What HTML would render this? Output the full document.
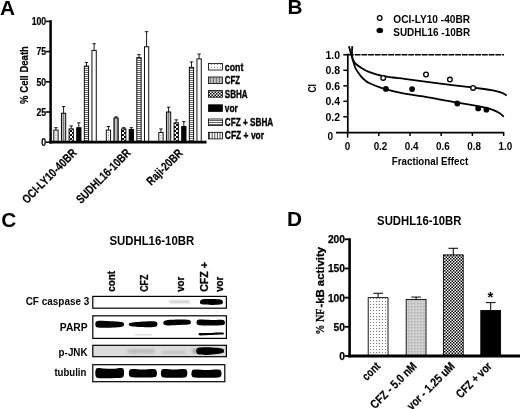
<!DOCTYPE html>
<html lang="en"><head><meta charset="utf-8"><title>Figure</title>
<style>
html,body{margin:0;padding:0;background:#fff;}
body{width:520px;height:409px;overflow:hidden;}
svg{display:block;}
text{font-family:"Liberation Sans",Arial,Helvetica,sans-serif;font-weight:bold;fill:#000;}
</style></head><body>
<svg width="520" height="409" viewBox="0 0 520 409">
<defs>
<pattern id="pDotL" width="3" height="3" patternUnits="userSpaceOnUse"><rect width="3" height="3" fill="#fff"/><rect x="1" y="1" width="1" height="1" fill="#888"/></pattern>
<pattern id="pDotD" width="3" height="3" patternUnits="userSpaceOnUse"><rect width="3" height="3" fill="#fff"/><rect x="1" y="1" width="1" height="1" fill="#777"/></pattern>
<pattern id="pV" width="3" height="4" patternUnits="userSpaceOnUse"><rect width="3" height="4" fill="#fff"/><rect x="0.2" y="0" width="0.65" height="4" fill="#333"/><rect x="1.7" y="0" width="0.65" height="4" fill="#333"/></pattern>
<pattern id="pVW" width="13" height="4" patternUnits="userSpaceOnUse"><rect width="13" height="4" fill="#fff"/><path d="M1.6,0v4M4.2,0v4M6.8,0v4M9.4,0v4M12,0v4" stroke="#222" stroke-width="0.8"/></pattern>
<pattern id="pH" width="4" height="2" patternUnits="userSpaceOnUse"><rect width="4" height="2" fill="#fff"/><rect x="0" y="0" width="4" height="1" fill="#666"/></pattern>
<pattern id="pChk" width="3" height="3" patternUnits="userSpaceOnUse"><rect width="3" height="3" fill="#fff"/><rect x="0" y="0" width="1.5" height="1.5" fill="#000"/><rect x="1.5" y="1.5" width="1.5" height="1.5" fill="#000"/></pattern>
<pattern id="pChkA" width="4" height="4" patternUnits="userSpaceOnUse"><rect width="4" height="4" fill="#fff"/><rect x="0" y="0" width="2" height="2" fill="#111"/><rect x="2" y="2" width="2" height="2" fill="#111"/></pattern>
<pattern id="pGrid" width="3" height="3" patternUnits="userSpaceOnUse"><rect width="3" height="3" fill="#fff"/><path d="M0.4,0v3M1.9,0v3M0,0.4h3M0,1.9h3" stroke="#888" stroke-width="0.42"/></pattern>
<filter id="b1" x="-20%" y="-60%" width="140%" height="220%"><feGaussianBlur stdDeviation="0.6"/></filter>
<filter id="b2" x="-20%" y="-100%" width="140%" height="300%"><feGaussianBlur stdDeviation="1.1"/></filter>
</defs>
<rect width="520" height="409" fill="#fff"/>

<g id="panelA">
<text x="0.1" y="14.6" font-size="20.8">A</text>
<line x1="45.8" y1="21.4" x2="50.6" y2="21.4" stroke="#000" stroke-width="1.6"/>
<text x="46.2" y="25.1" font-size="10.6" text-anchor="end" textLength="14.55" lengthAdjust="spacingAndGlyphs" stroke="#000" stroke-width="0.2">100</text>
<line x1="45.8" y1="51.6" x2="50.6" y2="51.6" stroke="#000" stroke-width="1.6"/>
<text x="46.2" y="55.3" font-size="10.6" text-anchor="end" textLength="9.7" lengthAdjust="spacingAndGlyphs" stroke="#000" stroke-width="0.2">75</text>
<line x1="45.8" y1="81.8" x2="50.6" y2="81.8" stroke="#000" stroke-width="1.6"/>
<text x="46.2" y="85.5" font-size="10.6" text-anchor="end" textLength="9.7" lengthAdjust="spacingAndGlyphs" stroke="#000" stroke-width="0.2">50</text>
<line x1="45.8" y1="112.0" x2="50.6" y2="112.0" stroke="#000" stroke-width="1.6"/>
<text x="46.2" y="115.7" font-size="10.6" text-anchor="end" textLength="9.7" lengthAdjust="spacingAndGlyphs" stroke="#000" stroke-width="0.2">25</text>
<line x1="45.8" y1="142.2" x2="50.6" y2="142.2" stroke="#000" stroke-width="1.6"/>
<text x="46.2" y="145.9" font-size="10.6" text-anchor="end" textLength="4.85" lengthAdjust="spacingAndGlyphs" stroke="#000" stroke-width="0.2">0</text>
<text x="27.9" y="75" font-size="10.6" text-anchor="middle" textLength="57.8" lengthAdjust="spacingAndGlyphs" transform="rotate(-90 27.9 75)" stroke="#000" stroke-width="0.2">% Cell Death</text>
<line x1="55.95" y1="130.12" x2="55.95" y2="127.7" stroke="#000" stroke-width="0.9"/>
<line x1="54.25" y1="127.7" x2="57.65" y2="127.7" stroke="#000" stroke-width="0.9"/>
<rect x="53.8" y="130.12" width="4.3" height="12.08" fill="#fff" stroke="#000" stroke-width="0.95"/>
<rect x="55.35" y="132.32" width="1.2" height="1" fill="#888"/>
<rect x="55.35" y="134.72" width="1.2" height="1" fill="#888"/>
<rect x="55.35" y="137.12" width="1.2" height="1" fill="#888"/>
<rect x="55.35" y="139.52" width="1.2" height="1" fill="#888"/>
<line x1="63.58" y1="113.21" x2="63.58" y2="106.56" stroke="#000" stroke-width="0.9"/>
<line x1="61.88" y1="106.56" x2="65.28" y2="106.56" stroke="#000" stroke-width="0.9"/>
<rect x="61.43" y="113.21" width="4.3" height="28.99" fill="url(#pV)" stroke="#000" stroke-width="0.95"/>
<line x1="71.21" y1="128.91" x2="71.21" y2="125.89" stroke="#000" stroke-width="0.9"/>
<line x1="69.51" y1="125.89" x2="72.91" y2="125.89" stroke="#000" stroke-width="0.9"/>
<rect x="69.06" y="128.91" width="4.3" height="13.29" fill="url(#pChkA)" stroke="#000" stroke-width="0.95"/>
<line x1="78.84" y1="127.7" x2="78.84" y2="122.87" stroke="#000" stroke-width="0.9"/>
<line x1="77.14" y1="122.87" x2="80.54" y2="122.87" stroke="#000" stroke-width="0.9"/>
<rect x="76.69" y="127.7" width="4.3" height="14.5" fill="#000" stroke="#000" stroke-width="0.95"/>
<line x1="86.47" y1="66.1" x2="86.47" y2="62.47" stroke="#000" stroke-width="0.9"/>
<line x1="84.77" y1="62.47" x2="88.17" y2="62.47" stroke="#000" stroke-width="0.9"/>
<rect x="84.32" y="66.1" width="4.3" height="76.1" fill="url(#pH)" stroke="#000" stroke-width="0.95"/>
<line x1="94.1" y1="50.39" x2="94.1" y2="43.75" stroke="#000" stroke-width="0.9"/>
<line x1="92.4" y1="43.75" x2="95.8" y2="43.75" stroke="#000" stroke-width="0.9"/>
<rect x="91.95" y="50.39" width="4.3" height="91.81" fill="#fff" stroke="#000" stroke-width="0.95"/>
<line x1="108.45" y1="130.12" x2="108.45" y2="126.5" stroke="#000" stroke-width="0.9"/>
<line x1="106.75" y1="126.5" x2="110.15" y2="126.5" stroke="#000" stroke-width="0.9"/>
<rect x="106.3" y="130.12" width="4.3" height="12.08" fill="#fff" stroke="#000" stroke-width="0.95"/>
<rect x="107.85" y="132.32" width="1.2" height="1" fill="#888"/>
<rect x="107.85" y="134.72" width="1.2" height="1" fill="#888"/>
<rect x="107.85" y="137.12" width="1.2" height="1" fill="#888"/>
<rect x="107.85" y="139.52" width="1.2" height="1" fill="#888"/>
<line x1="116.08" y1="118.04" x2="116.08" y2="116.83" stroke="#000" stroke-width="0.9"/>
<line x1="114.38" y1="116.83" x2="117.78" y2="116.83" stroke="#000" stroke-width="0.9"/>
<rect x="113.93" y="118.04" width="4.3" height="24.16" fill="url(#pV)" stroke="#000" stroke-width="0.95"/>
<line x1="123.71" y1="128.91" x2="123.71" y2="127.7" stroke="#000" stroke-width="0.9"/>
<line x1="122.01" y1="127.7" x2="125.41" y2="127.7" stroke="#000" stroke-width="0.9"/>
<rect x="121.56" y="128.91" width="4.3" height="13.29" fill="url(#pChkA)" stroke="#000" stroke-width="0.95"/>
<line x1="131.34" y1="129.52" x2="131.34" y2="127.7" stroke="#000" stroke-width="0.9"/>
<line x1="129.64" y1="127.7" x2="133.04" y2="127.7" stroke="#000" stroke-width="0.9"/>
<rect x="129.19" y="129.52" width="4.3" height="12.68" fill="#000" stroke="#000" stroke-width="0.95"/>
<line x1="138.97" y1="57.64" x2="138.97" y2="54.62" stroke="#000" stroke-width="0.9"/>
<line x1="137.27" y1="54.62" x2="140.67" y2="54.62" stroke="#000" stroke-width="0.9"/>
<rect x="136.82" y="57.64" width="4.3" height="84.56" fill="url(#pH)" stroke="#000" stroke-width="0.95"/>
<line x1="146.6" y1="46.77" x2="146.6" y2="31.67" stroke="#000" stroke-width="0.9"/>
<line x1="144.9" y1="31.67" x2="148.3" y2="31.67" stroke="#000" stroke-width="0.9"/>
<rect x="144.45" y="46.77" width="4.3" height="95.43" fill="#fff" stroke="#000" stroke-width="0.95"/>
<line x1="160.95" y1="132.54" x2="160.95" y2="128.91" stroke="#000" stroke-width="0.9"/>
<line x1="159.25" y1="128.91" x2="162.65" y2="128.91" stroke="#000" stroke-width="0.9"/>
<rect x="158.8" y="132.54" width="4.3" height="9.66" fill="#fff" stroke="#000" stroke-width="0.95"/>
<rect x="160.35" y="134.74" width="1.2" height="1" fill="#888"/>
<rect x="160.35" y="137.14" width="1.2" height="1" fill="#888"/>
<rect x="160.35" y="139.54" width="1.2" height="1" fill="#888"/>
<line x1="168.58" y1="112.0" x2="168.58" y2="107.17" stroke="#000" stroke-width="0.9"/>
<line x1="166.88" y1="107.17" x2="170.28" y2="107.17" stroke="#000" stroke-width="0.9"/>
<rect x="166.43" y="112.0" width="4.3" height="30.2" fill="url(#pV)" stroke="#000" stroke-width="0.95"/>
<line x1="176.21" y1="122.87" x2="176.21" y2="119.85" stroke="#000" stroke-width="0.9"/>
<line x1="174.51" y1="119.85" x2="177.91" y2="119.85" stroke="#000" stroke-width="0.9"/>
<rect x="174.06" y="122.87" width="4.3" height="19.33" fill="url(#pChkA)" stroke="#000" stroke-width="0.95"/>
<line x1="183.84" y1="126.5" x2="183.84" y2="121.66" stroke="#000" stroke-width="0.9"/>
<line x1="182.14" y1="121.66" x2="185.54" y2="121.66" stroke="#000" stroke-width="0.9"/>
<rect x="181.69" y="126.5" width="4.3" height="15.7" fill="#000" stroke="#000" stroke-width="0.95"/>
<line x1="191.47" y1="67.3" x2="191.47" y2="61.87" stroke="#000" stroke-width="0.9"/>
<line x1="189.77" y1="61.87" x2="193.17" y2="61.87" stroke="#000" stroke-width="0.9"/>
<rect x="189.32" y="67.3" width="4.3" height="74.9" fill="url(#pH)" stroke="#000" stroke-width="0.95"/>
<line x1="199.1" y1="58.85" x2="199.1" y2="54.02" stroke="#000" stroke-width="0.9"/>
<line x1="197.4" y1="54.02" x2="200.8" y2="54.02" stroke="#000" stroke-width="0.9"/>
<rect x="196.95" y="58.85" width="4.3" height="83.35" fill="#fff" stroke="#000" stroke-width="0.95"/>
<line x1="50.6" y1="20.2" x2="50.6" y2="143.6" stroke="#000" stroke-width="2.5"/>
<line x1="49.2" y1="142.2" x2="206.5" y2="142.2" stroke="#000" stroke-width="2.8"/>
<text x="77.5" y="153.6" font-size="12" text-anchor="end" textLength="71.5" lengthAdjust="spacingAndGlyphs" transform="rotate(-45 77.5 153.6)" stroke="#000" stroke-width="0.2">OCI-LY10-40BR</text>
<text x="131.5" y="153.6" font-size="12" text-anchor="end" textLength="71.5" lengthAdjust="spacingAndGlyphs" transform="rotate(-45 131.5 153.6)" stroke="#000" stroke-width="0.2">SUDHL16-10BR</text>
<text x="183.5" y="153.8" font-size="12" text-anchor="end" textLength="45.5" lengthAdjust="spacingAndGlyphs" transform="rotate(-45 183.5 153.8)" stroke="#000" stroke-width="0.2">Raji-20BR</text>
<rect x="208.5" y="63.4" width="13.9" height="6.6" fill="url(#pDotL)" stroke="#000" stroke-width="0.8"/>
<text x="224.8" y="70.5" font-size="10.7" textLength="18.5" lengthAdjust="spacingAndGlyphs" stroke="#000" stroke-width="0.35">cont</text>
<rect x="208.5" y="77.0" width="13.9" height="6.6" fill="url(#pV)" stroke="#000" stroke-width="0.8"/>
<text x="224.8" y="84.1" font-size="10.7" textLength="15.2" lengthAdjust="spacingAndGlyphs" stroke="#000" stroke-width="0.35">CFZ</text>
<rect x="208.5" y="90.6" width="13.9" height="6.6" fill="url(#pChk)" stroke="#000" stroke-width="0.8"/>
<text x="224.8" y="97.7" font-size="10.7" textLength="22.8" lengthAdjust="spacingAndGlyphs" stroke="#000" stroke-width="0.35">SBHA</text>
<rect x="208.5" y="104.8" width="13.9" height="6.6" fill="#000" stroke="#000" stroke-width="0.8"/>
<text x="224.8" y="111.9" font-size="10.7" textLength="13" lengthAdjust="spacingAndGlyphs" stroke="#000" stroke-width="0.35">vor</text>
<rect x="208.5" y="119.0" width="13.9" height="6.6" fill="url(#pH)" stroke="#000" stroke-width="0.8"/>
<text x="224.8" y="126.1" font-size="10.7" textLength="48.5" lengthAdjust="spacingAndGlyphs" stroke="#000" stroke-width="0.35">CFZ + SBHA</text>
<rect x="208.5" y="132.3" width="13.9" height="6.6" fill="url(#pVW)" stroke="#000" stroke-width="0.8"/>
<text x="224.8" y="139.4" font-size="10.7" textLength="39.3" lengthAdjust="spacingAndGlyphs" stroke="#000" stroke-width="0.35">CFZ + vor</text>
</g>
<g id="panelB">
<text x="287.5" y="14.4" font-size="20.8">B</text>
<circle cx="379.7" cy="18" r="2.3" fill="#fff" stroke="#000" stroke-width="1.3"/>
<ellipse cx="379.8" cy="30.4" rx="3.3" ry="2.7" fill="#000"/>
<text x="393.3" y="23.1" font-size="11.3" textLength="76.8" lengthAdjust="spacingAndGlyphs">OCI-LY10 -40BR</text>
<text x="393.3" y="35.8" font-size="11.3" textLength="76.8" lengthAdjust="spacingAndGlyphs">SUDHL16 -10BR</text>
<line x1="347.8" y1="53.5" x2="347.8" y2="133" stroke="#000" stroke-width="1.7"/>
<line x1="343.3" y1="54.8" x2="347.8" y2="54.8" stroke="#000" stroke-width="1.5"/>
<text x="340" y="58.9" font-size="11.4" text-anchor="end" textLength="14.6" lengthAdjust="spacingAndGlyphs">1.0</text>
<line x1="343.3" y1="70.3" x2="347.8" y2="70.3" stroke="#000" stroke-width="1.5"/>
<text x="340" y="74.4" font-size="11.4" text-anchor="end" textLength="14.6" lengthAdjust="spacingAndGlyphs">0.8</text>
<line x1="343.3" y1="85.8" x2="347.8" y2="85.8" stroke="#000" stroke-width="1.5"/>
<text x="340" y="89.9" font-size="11.4" text-anchor="end" textLength="14.6" lengthAdjust="spacingAndGlyphs">0.6</text>
<line x1="343.3" y1="101.3" x2="347.8" y2="101.3" stroke="#000" stroke-width="1.5"/>
<text x="340" y="105.4" font-size="11.4" text-anchor="end" textLength="14.6" lengthAdjust="spacingAndGlyphs">0.4</text>
<line x1="343.3" y1="116.8" x2="347.8" y2="116.8" stroke="#000" stroke-width="1.5"/>
<text x="340" y="120.9" font-size="11.4" text-anchor="end" textLength="14.6" lengthAdjust="spacingAndGlyphs">0.2</text>
<text x="333" y="140.2" font-size="11" text-anchor="end" textLength="5.6" lengthAdjust="spacingAndGlyphs">0</text>
<line x1="336" y1="132.7" x2="504.3" y2="132.7" stroke="#000" stroke-width="1.8"/>
<line x1="347.6" y1="132.7" x2="347.6" y2="137.6" stroke="#000" stroke-width="1.5"/>
<text x="347.6" y="150.2" font-size="10.8" text-anchor="middle" textLength="5.5" lengthAdjust="spacingAndGlyphs">0</text>
<line x1="378.8" y1="132.7" x2="378.8" y2="136" stroke="#000" stroke-width="1.5"/>
<text x="380.5" y="150.2" font-size="10.8" text-anchor="middle" textLength="13.7" lengthAdjust="spacingAndGlyphs">0.2</text>
<line x1="410.0" y1="132.7" x2="410.0" y2="136" stroke="#000" stroke-width="1.5"/>
<text x="411.7" y="150.2" font-size="10.8" text-anchor="middle" textLength="13.7" lengthAdjust="spacingAndGlyphs">0.4</text>
<line x1="441.2" y1="132.7" x2="441.2" y2="136" stroke="#000" stroke-width="1.5"/>
<text x="442.9" y="150.2" font-size="10.8" text-anchor="middle" textLength="13.7" lengthAdjust="spacingAndGlyphs">0.6</text>
<line x1="472.4" y1="132.7" x2="472.4" y2="136" stroke="#000" stroke-width="1.5"/>
<text x="474.1" y="150.2" font-size="10.8" text-anchor="middle" textLength="13.7" lengthAdjust="spacingAndGlyphs">0.8</text>
<line x1="503.6" y1="132.7" x2="503.6" y2="136" stroke="#000" stroke-width="1.5"/>
<text x="505.3" y="150.2" font-size="10.8" text-anchor="middle" textLength="13.7" lengthAdjust="spacingAndGlyphs">1.0</text>
<text x="430" y="164.5" font-size="11.3" text-anchor="middle" textLength="76.3" lengthAdjust="spacingAndGlyphs">Fractional Effect</text>
<text x="315.6" y="88.3" font-size="11" text-anchor="middle" textLength="8.6" lengthAdjust="spacingAndGlyphs" transform="rotate(-90 315.6 88.3)">CI</text>
<line x1="348" y1="54.7" x2="504" y2="54.7" stroke="#000" stroke-width="1.6" stroke-dasharray="5.8 0.9"/>
<path d="M348.9,46.2 C349.12,47.00 349.78,49.47 350.2,51 C350.62,52.53 350.93,53.97 351.4,55.4 C351.87,56.83 352.25,58.17 353,59.6 C353.75,61.03 354.28,62.48 355.9,64 C357.52,65.52 360.42,67.35 362.7,68.7 C364.98,70.05 366.52,70.95 369.6,72.1 C372.68,73.25 377.32,74.70 381.2,75.6 C385.08,76.50 389.02,76.97 392.9,77.5 C396.78,78.03 399.45,78.15 404.5,78.8 C409.55,79.45 416.22,80.47 423.2,81.4 C430.18,82.33 438.67,83.43 446.4,84.4 C454.13,85.37 463.33,86.43 469.6,87.2 C475.87,87.97 480.12,88.47 484,89 C487.88,89.53 490.40,89.93 492.9,90.4 C495.40,90.87 497.32,91.33 499,91.8 C500.68,92.27 501.70,92.57 503,93.2 C504.30,93.83 506.17,95.20 506.8,95.6" fill="none" stroke="#000" stroke-width="1.8"/>
<path d="M352.3,46.2 C352.25,47.00 352.03,49.47 352,51 C351.97,52.53 351.98,53.98 352.1,55.4 C352.22,56.82 352.43,58.25 352.7,59.5 C352.97,60.75 353.20,61.37 353.7,62.9 C354.20,64.43 354.58,66.58 355.7,68.7 C356.82,70.82 358.85,73.67 360.4,75.6 C361.95,77.53 363.47,79.02 365,80.3 C366.53,81.58 366.90,82.03 369.6,83.3 C372.30,84.57 377.32,86.58 381.2,87.9 C385.08,89.22 389.02,90.25 392.9,91.2 C396.78,92.15 399.45,92.73 404.5,93.6 C409.55,94.47 416.22,95.22 423.2,96.4 C430.18,97.58 438.67,99.33 446.4,100.7 C454.13,102.07 463.33,103.50 469.6,104.6 C475.87,105.70 480.12,106.43 484,107.3 C487.88,108.17 490.27,108.80 492.9,109.8 C495.53,110.80 497.98,112.15 499.8,113.3 C501.62,114.45 503.13,116.13 503.8,116.7" fill="none" stroke="#000" stroke-width="1.8"/>
<circle cx="383.2" cy="77.9" r="2.35" fill="#fff" stroke="#000" stroke-width="1.3"/>
<circle cx="426" cy="74.5" r="2.35" fill="#fff" stroke="#000" stroke-width="1.3"/>
<circle cx="449.9" cy="79.6" r="2.35" fill="#fff" stroke="#000" stroke-width="1.3"/>
<circle cx="473.1" cy="87.9" r="2.35" fill="#fff" stroke="#000" stroke-width="1.3"/>
<circle cx="385.9" cy="88.9" r="2.9" fill="#000"/>
<circle cx="412.1" cy="89.1" r="2.9" fill="#000"/>
<circle cx="457.3" cy="103.5" r="2.9" fill="#000"/>
<circle cx="478.2" cy="108.4" r="2.9" fill="#000"/>
<circle cx="486.4" cy="109.7" r="2.9" fill="#000"/>
</g>
<g id="panelC">
<text x="1.3" y="227" font-size="20.8">C</text>
<text x="109.4" y="245.4" font-size="12.8" textLength="84.8" lengthAdjust="spacingAndGlyphs">SUDHL16-10BR</text>
<text x="115" y="291.8" font-size="10.5" textLength="20.8" lengthAdjust="spacingAndGlyphs" transform="rotate(-90 115 291.8)" stroke="#000" stroke-width="0.3">cont</text>
<text x="147.6" y="291.8" font-size="10.5" textLength="17.2" lengthAdjust="spacingAndGlyphs" transform="rotate(-90 147.6 291.8)" stroke="#000" stroke-width="0.3">CFZ</text>
<text x="184.4" y="291.8" font-size="10.5" textLength="15" lengthAdjust="spacingAndGlyphs" transform="rotate(-90 184.4 291.8)" stroke="#000" stroke-width="0.3">vor</text>
<text x="208" y="291.8" font-size="10.5" textLength="29.6" lengthAdjust="spacingAndGlyphs" transform="rotate(-90 208 291.8)" stroke="#000" stroke-width="0.3">CFZ +</text>
<text x="222.8" y="291.8" font-size="10.5" textLength="15" lengthAdjust="spacingAndGlyphs" transform="rotate(-90 222.8 291.8)" stroke="#000" stroke-width="0.3">vor</text>
<text x="89.3" y="305" font-size="11.5" text-anchor="end" textLength="63.6" lengthAdjust="spacingAndGlyphs">CF caspase 3</text>
<text x="87.6" y="331.3" font-size="11.5" text-anchor="end" textLength="27.8" lengthAdjust="spacingAndGlyphs">PARP</text>
<text x="87.6" y="355.6" font-size="11.5" text-anchor="end" textLength="29" lengthAdjust="spacingAndGlyphs">p-JNK</text>
<text x="86.4" y="376" font-size="11.5" text-anchor="end" textLength="32" lengthAdjust="spacingAndGlyphs">tubulin</text>
<rect x="92.8" y="296.4" width="133.6" height="11.8" fill="#fff" stroke="#000" stroke-width="1.2"/>
<rect x="92.8" y="315.8" width="133.6" height="22.6" fill="#fff" stroke="#000" stroke-width="1.2"/>
<rect x="92.8" y="345.3" width="133.6" height="11.4" fill="#dcdcdc" stroke="#000" stroke-width="1.2"/>
<rect x="92.8" y="364.7" width="132" height="17" fill="#fff" stroke="#000" stroke-width="1.2"/>
<path d="M200.30,300.80 C200.74,300.07 201.11,299.50 202.96,299.20 C204.81,298.90 208.70,298.98 211.40,299.00 C214.10,299.02 217.32,299.00 219.17,299.30 C221.02,299.60 221.94,300.12 222.50,300.80 C223.06,301.48 223.06,302.77 222.50,303.40 C221.94,304.03 221.02,304.33 219.17,304.60 C217.32,304.87 214.10,305.00 211.40,305.00 C208.70,305.00 204.81,304.83 202.96,304.60 C201.11,304.37 200.74,304.23 200.30,303.60 C199.86,302.97 199.86,301.53 200.30,300.80Z" fill="#000" filter="url(#b1)"/>
<rect x="169" y="300.8" width="21" height="2" rx="1" fill="#bbb" filter="url(#b2)"/>
<path d="M95.60,322.40 C95.98,321.55 96.21,321.13 97.86,320.90 C99.50,320.67 102.56,320.92 105.47,321.00 C108.38,321.08 112.66,321.23 115.34,321.40 C118.02,321.57 120.13,321.70 121.54,322.00 C122.95,322.30 123.42,322.60 123.80,323.20 C124.18,323.80 124.18,325.00 123.80,325.60 C123.42,326.20 122.95,326.48 121.54,326.80 C120.13,327.12 118.02,327.33 115.34,327.50 C112.66,327.67 108.38,327.78 105.47,327.80 C102.56,327.82 99.50,327.90 97.86,327.60 C96.21,327.30 95.98,326.87 95.60,326.00 C95.22,325.13 95.22,323.25 95.60,322.40Z" fill="#000" filter="url(#b1)"/>
<path d="M129.20,323.20 C129.76,322.70 130.69,322.63 132.56,322.40 C134.43,322.17 137.46,321.98 140.40,321.80 C143.34,321.62 147.73,321.35 150.20,321.30 C152.67,321.25 154.07,321.25 155.24,321.50 C156.41,321.75 156.87,322.15 157.20,322.80 C157.53,323.45 157.53,324.73 157.20,325.40 C156.87,326.07 156.41,326.48 155.24,326.80 C154.07,327.12 152.67,327.27 150.20,327.30 C147.73,327.33 143.34,327.15 140.40,327.00 C137.46,326.85 134.43,326.67 132.56,326.40 C130.69,326.13 129.76,325.93 129.20,325.40 C128.64,324.87 128.64,323.70 129.20,323.20Z" fill="#000" filter="url(#b1)"/>
<path d="M163.80,321.60 C164.47,320.90 165.14,320.35 167.82,320.00 C170.50,319.65 176.53,319.53 179.88,319.50 C183.23,319.47 186.13,319.55 187.92,319.80 C189.71,320.05 190.15,320.37 190.60,321.00 C191.05,321.63 191.05,323.00 190.60,323.60 C190.15,324.20 189.71,324.37 187.92,324.60 C186.13,324.83 183.23,324.87 179.88,325.00 C176.53,325.13 170.50,325.53 167.82,325.40 C165.14,325.27 164.47,324.83 163.80,324.20 C163.13,323.57 163.13,322.30 163.80,321.60Z" fill="#000" filter="url(#b1)"/>
<path d="M196.80,321.20 C197.26,320.50 197.26,319.80 199.58,319.60 C201.90,319.40 206.99,319.97 210.70,320.00 C214.41,320.03 219.50,319.60 221.82,319.80 C224.14,320.00 224.14,320.50 224.60,321.20 C225.06,321.90 225.06,323.32 224.60,324.00 C224.14,324.68 224.14,325.07 221.82,325.30 C219.50,325.53 214.41,325.42 210.70,325.40 C206.99,325.38 201.90,325.47 199.58,325.20 C197.26,324.93 197.26,324.47 196.80,323.80 C196.34,323.13 196.34,321.90 196.80,321.20Z" fill="#000" filter="url(#b1)"/>
<path d="M198.80,333.60 C199.21,333.28 199.21,333.22 201.28,333.10 C203.35,332.98 207.89,332.98 211.20,332.90 C214.51,332.82 219.05,332.58 221.12,332.60 C223.19,332.62 223.19,332.73 223.60,333.00 C224.01,333.27 224.01,333.93 223.60,334.20 C223.19,334.47 223.19,334.47 221.12,334.60 C219.05,334.73 214.51,334.87 211.20,335.00 C207.89,335.13 203.35,335.40 201.28,335.40 C199.21,335.40 199.21,335.30 198.80,335.00 C198.39,334.70 198.39,333.92 198.80,333.60Z" fill="#000" filter="url(#b1)"/>
<rect x="135" y="334" width="17" height="1.6" rx="0.7" fill="#dedede" filter="url(#b1)"/>
<rect x="127" y="349" width="28" height="4.4" rx="2" fill="#bdbdbd" filter="url(#b2)"/>
<rect x="162" y="350.8" width="24" height="3" rx="1.5" fill="#c2c2c2" filter="url(#b2)"/>
<rect x="192" y="348.5" width="6" height="5" rx="2" fill="#aaa" filter="url(#b2)"/>
<path d="M196.60,349.20 C197.05,348.28 197.51,347.83 199.32,347.50 C201.13,347.17 204.53,347.15 207.48,347.20 C210.43,347.25 214.51,347.53 217.00,347.80 C219.49,348.07 221.31,348.47 222.44,348.80 C223.57,349.13 223.57,349.23 223.80,349.80 C224.03,350.37 224.03,351.67 223.80,352.20 C223.57,352.73 223.57,352.70 222.44,353.00 C221.31,353.30 219.49,353.68 217.00,354.00 C214.51,354.32 210.43,354.80 207.48,354.90 C204.53,355.00 201.13,354.92 199.32,354.60 C197.51,354.28 197.05,353.90 196.60,353.00 C196.15,352.10 196.15,350.12 196.60,349.20Z" fill="#000" filter="url(#b1)"/>
<path d="M95.60,370.00 C95.98,368.67 96.45,368.23 97.86,368.00 C99.27,367.77 101.62,368.47 104.06,368.60 C106.50,368.73 109.61,368.90 112.52,368.80 C115.43,368.70 119.66,367.80 121.54,368.00 C123.42,368.20 123.42,368.73 123.80,370.00 C124.18,371.27 124.18,374.30 123.80,375.60 C123.42,376.90 123.42,377.37 121.54,377.80 C119.66,378.23 115.43,378.13 112.52,378.20 C109.61,378.27 106.50,378.23 104.06,378.20 C101.62,378.17 99.27,378.37 97.86,378.00 C96.45,377.63 95.98,377.33 95.60,376.00 C95.22,374.67 95.22,371.33 95.60,370.00Z" fill="#000" filter="url(#b1)"/>
<path d="M129.20,371.00 C129.66,369.90 129.66,369.23 131.94,369.00 C134.22,368.77 139.25,369.60 142.90,369.60 C146.55,369.60 151.58,368.77 153.86,369.00 C156.14,369.23 156.14,369.93 156.60,371.00 C157.06,372.07 157.06,374.37 156.60,375.40 C156.14,376.43 156.14,376.87 153.86,377.20 C151.58,377.53 146.55,377.40 142.90,377.40 C139.25,377.40 134.22,377.50 131.94,377.20 C129.66,376.90 129.66,376.63 129.20,375.60 C128.74,374.57 128.74,372.10 129.20,371.00Z" fill="#000" filter="url(#b1)"/>
<path d="M161.20,371.00 C161.63,369.90 161.63,369.23 163.78,369.00 C165.93,368.77 170.66,369.60 174.10,369.60 C177.54,369.60 182.27,368.77 184.42,369.00 C186.57,369.23 186.57,369.93 187.00,371.00 C187.43,372.07 187.43,374.30 187.00,375.40 C186.57,376.50 186.57,377.20 184.42,377.60 C182.27,378.00 177.54,377.80 174.10,377.80 C170.66,377.80 165.93,377.97 163.78,377.60 C161.63,377.23 161.63,376.70 161.20,375.60 C160.77,374.50 160.77,372.10 161.20,371.00Z" fill="#000" filter="url(#b1)"/>
<path d="M191.80,371.40 C192.29,370.37 192.29,369.83 194.74,369.60 C197.19,369.37 202.58,370.00 206.50,370.00 C210.42,370.00 215.81,369.37 218.26,369.60 C220.71,369.83 220.71,370.40 221.20,371.40 C221.69,372.40 221.69,374.57 221.20,375.60 C220.71,376.63 220.71,377.23 218.26,377.60 C215.81,377.97 210.42,377.80 206.50,377.80 C202.58,377.80 197.19,377.93 194.74,377.60 C192.29,377.27 192.29,376.83 191.80,375.80 C191.31,374.77 191.31,372.43 191.80,371.40Z" fill="#000" filter="url(#b1)"/>
</g>
<g id="panelD">
<text x="286.9" y="226" font-size="20.8">D</text>
<text x="377.1" y="224.9" font-size="12.8" textLength="84.3" lengthAdjust="spacingAndGlyphs">SUDHL16-10BR</text>
<line x1="344.5" y1="239.3" x2="349.6" y2="239.3" stroke="#000" stroke-width="1.8"/>
<text x="345" y="243.3" font-size="11.3" text-anchor="end" textLength="17.1" lengthAdjust="spacingAndGlyphs" stroke="#000" stroke-width="0.25">200</text>
<line x1="344.5" y1="268.48" x2="349.6" y2="268.48" stroke="#000" stroke-width="1.8"/>
<text x="345" y="272.48" font-size="11.3" text-anchor="end" textLength="17.1" lengthAdjust="spacingAndGlyphs" stroke="#000" stroke-width="0.25">150</text>
<line x1="344.5" y1="297.65" x2="349.6" y2="297.65" stroke="#000" stroke-width="1.8"/>
<text x="345" y="301.65" font-size="11.3" text-anchor="end" textLength="17.1" lengthAdjust="spacingAndGlyphs" stroke="#000" stroke-width="0.25">100</text>
<line x1="344.5" y1="326.82" x2="349.6" y2="326.82" stroke="#000" stroke-width="1.8"/>
<text x="345" y="330.82" font-size="11.3" text-anchor="end" textLength="11.4" lengthAdjust="spacingAndGlyphs" stroke="#000" stroke-width="0.25">50</text>
<line x1="344.5" y1="356.0" x2="349.6" y2="356.0" stroke="#000" stroke-width="1.8"/>
<text x="345" y="360.0" font-size="11.3" text-anchor="end" textLength="5.7" lengthAdjust="spacingAndGlyphs" stroke="#000" stroke-width="0.25">0</text>
<text x="323.9" y="334.8" font-size="12.8" textLength="26.3" lengthAdjust="spacingAndGlyphs" transform="rotate(-90 323.9 334.8)" style='font-family:"Liberation Serif", "Times New Roman", serif' stroke="#000" stroke-width="0.25">% NF</text>
<text x="323.9" y="307.6" font-size="10.8" textLength="60.6" lengthAdjust="spacingAndGlyphs" transform="rotate(-90 323.9 307.6)" stroke="#000" stroke-width="0.3">-kB activity</text>
<line x1="378.1" y1="297.65" x2="378.1" y2="293.27" stroke="#000" stroke-width="1"/>
<line x1="373.3" y1="293.27" x2="382.9" y2="293.27" stroke="#000" stroke-width="1"/>
<rect x="368.2" y="297.65" width="19.8" height="58.35" fill="url(#pDotD)" stroke="#000" stroke-width="0.9"/>
<line x1="416.1" y1="299.4" x2="416.1" y2="297.07" stroke="#000" stroke-width="1"/>
<line x1="411.3" y1="297.07" x2="420.9" y2="297.07" stroke="#000" stroke-width="1"/>
<rect x="406.2" y="299.4" width="19.8" height="56.6" fill="url(#pGrid)" stroke="#000" stroke-width="0.9"/>
<line x1="453.3" y1="254.88" x2="453.3" y2="248.29" stroke="#000" stroke-width="1"/>
<line x1="448.5" y1="248.29" x2="458.1" y2="248.29" stroke="#000" stroke-width="1"/>
<rect x="443.4" y="254.88" width="19.8" height="101.12" fill="url(#pChk)" stroke="#000" stroke-width="0.9"/>
<line x1="490.7" y1="310.49" x2="490.7" y2="302.61" stroke="#000" stroke-width="1"/>
<line x1="485.9" y1="302.61" x2="495.5" y2="302.61" stroke="#000" stroke-width="1"/>
<rect x="480.8" y="310.49" width="19.8" height="45.51" fill="#000" stroke="#000" stroke-width="0.9"/>
<line x1="349.6" y1="238.3" x2="349.6" y2="357.4" stroke="#000" stroke-width="2.6"/>
<line x1="348.3" y1="356" x2="520" y2="356" stroke="#000" stroke-width="2.9"/>
<text x="490.4" y="301.6" font-size="15" text-anchor="middle">*</text>
<text x="381" y="367" font-size="12" text-anchor="end" textLength="20" lengthAdjust="spacingAndGlyphs" transform="rotate(-45 381 367)" stroke="#000" stroke-width="0.2">cont</text>
<text x="417.5" y="367" font-size="12" text-anchor="end" textLength="60" lengthAdjust="spacingAndGlyphs" transform="rotate(-45 417.5 367)" stroke="#000" stroke-width="0.2">CFZ - 5.0 nM</text>
<text x="455.5" y="367" font-size="12" text-anchor="end" textLength="62" lengthAdjust="spacingAndGlyphs" transform="rotate(-45 455.5 367)" stroke="#000" stroke-width="0.2">vor - 1.25 uM</text>
<text x="492.5" y="367" font-size="12" text-anchor="end" textLength="45" lengthAdjust="spacingAndGlyphs" transform="rotate(-45 492.5 367)" stroke="#000" stroke-width="0.2">CFZ + vor</text>
</g>
</svg></body></html>
